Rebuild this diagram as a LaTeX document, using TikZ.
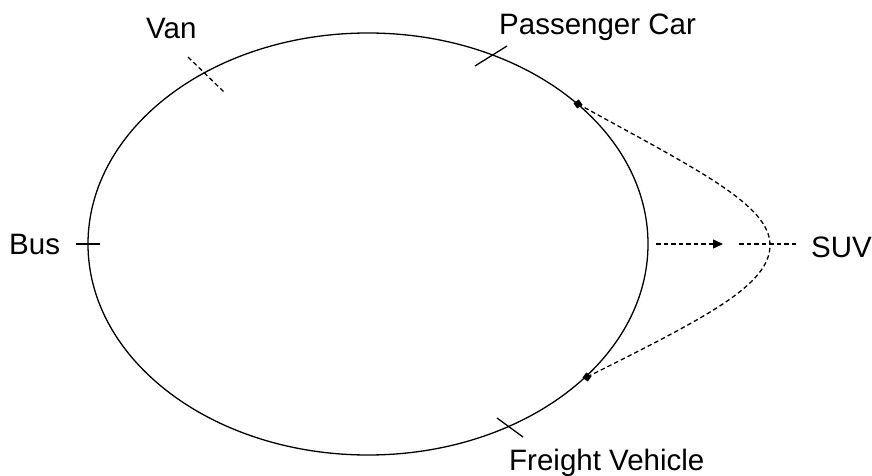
\documentclass[tikz,border=0pt]{standalone}
\usepackage{fontspec}
\setmainfont{Liberation Sans}
\usetikzlibrary{arrows.meta}
\begin{document}
\begin{tikzpicture}[x=1pt,y=-1pt,
  lbl/.style={inner sep=0pt,anchor=base west,font=\fontsize{29.5}{32}\selectfont},
  solidline/.style={line width=1.3pt,black},
  dashline/.style={line width=1.3pt,black,dash pattern=on 4.5pt off 3pt},
  dotmark/.style={draw=none,fill=black,minimum size=6.5pt,inner sep=0pt,rectangle}]
\useasboundingbox (0,0) rectangle (872,476);
\fill[white] (0,0) rectangle (872,476);
% ellipse
\draw[solidline] (368,244) ellipse [x radius=280pt, y radius=211pt];
% labels
\node[lbl] (van) at (146,39) {Van};
\node[lbl] (pc) at (499,35) {Passenger Car};
\node[lbl] (bus) at (9,254) {Bus};
\node[lbl] (suv) at (811,257) {SUV};
\node[lbl] (fv) at (509,470) {Freight Vehicle};
% ticks
\coordinate (van1) at (188,57); \coordinate (van2) at (224,92);
\draw[dashline] (van1) -- (van2);
\coordinate (pc1) at (475,66); \coordinate (pc2) at (507,46);
\draw[solidline] (pc1) -- (pc2);
\coordinate (bus1) at (76,244); \coordinate (bus2) at (100,244);
\draw[solidline] (bus1) -- (bus2);
\coordinate (fv1) at (497,418); \coordinate (fv2) at (523,437);
\draw[solidline] (fv1) -- (fv2);
% dots
\node[dotmark,rotate=35] (d1) at (578,104) {};
\node[dotmark,rotate=-35] (d2) at (587,377) {};
% dashed loop
\coordinate (tip) at (770,245);
\draw[dashline] (d1.center) .. controls (698,170) and (770,205) .. (tip)
  .. controls (770,285) and (707,317) .. (d2.center);
% arrow
\coordinate (a1) at (656,244); \coordinate (a2) at (723,244);
\draw[dashline,-{Triangle[length=10pt,width=9pt]}] (a1) -- (a2);
\coordinate (s1) at (739,244); \coordinate (s2) at (797,244);
\draw[dashline] (s1) -- (s2);
\end{tikzpicture}
\end{document}
